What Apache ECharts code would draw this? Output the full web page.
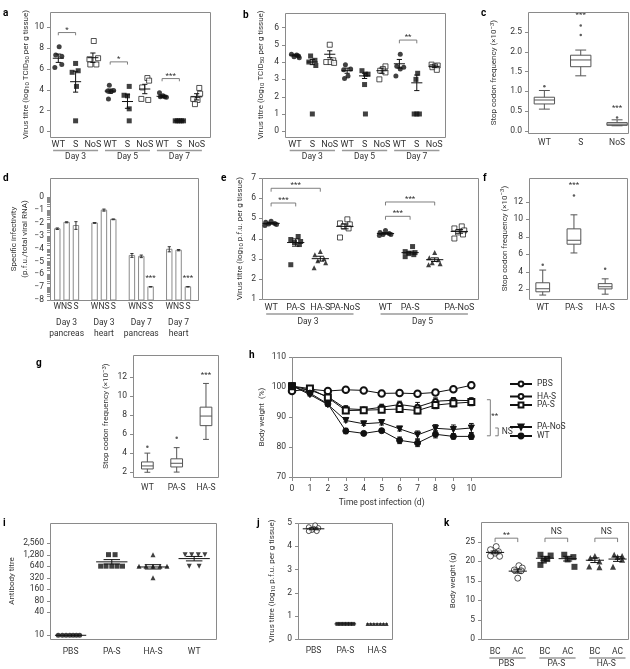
<!DOCTYPE html>
<html><head><meta charset="utf-8">
<script src="https://cdn.jsdelivr.net/npm/echarts@6/dist/echarts.min.js"></script>
<style>html,body{margin:0;padding:0;background:#fff}#c{width:630px;height:669px}</style>
</head><body><div id="c"></div>
<script>
// ================= DATA =================
// ---- panel a : virus titre (log10 TCID50 per g tissue) ----
const aCats = ['WT','S','NoS','WT','S','NoS','WT','S','NoS'];
const aGroups = ['Day 3','Day 5','Day 7'];
const a_d3_WT  = [8.1, 7.3, 7.2, 6.4, 6.1];
const a_d3_S   = [6.5, 5.8, 5.65, 4.3, 1.0];
const a_d3_NoS = [8.65, 7.0, 6.9, 6.4, 6.4];
const a_d5_WT  = [4.4, 3.9, 3.85, 3.8, 3.1];
const a_d5_S   = [4.3, 3.45, 3.4, 2.15, 1.0];
const a_d5_NoS = [5.1, 4.85, 4.2, 3.1, 3.0];
const a_d7_WT  = [3.7, 3.4, 3.3, 3.3, 3.25];
const a_d7_S   = [1.0, 1.0, 1.0, 1.0, 1.0];
const a_d7_NoS = [4.15, 3.6, 3.1, 3.0, 2.6];
const aMean = [7.0, 4.75, 7.05, 3.85, 2.85, 4.05, 3.35, 1.0, 3.3];
const aSem  = [0.4, 1.0, 0.45, 0.2, 0.65, 0.45, 0.1, 0.0, 0.3];
const aYTicks = [0, 2, 4, 6, 8, 10];

// ---- panel b ----
const bCats = aCats, bGroups = aGroups;
const b_d3_WT  = [4.45, 4.4, 4.35, 4.3, 4.25];
const b_d3_S   = [4.35, 4.1, 4.0, 3.8, 1.0];
const b_d3_NoS = [5.0, 4.1, 4.0, 4.0, 3.95];
const b_d5_WT  = [3.85, 3.6, 3.55, 3.2, 3.05];
const b_d5_S   = [3.5, 3.3, 3.3, 2.7, 1.0];
const b_d5_NoS = [3.75, 3.6, 3.5, 3.4, 3.0];
const b_d7_WT  = [4.45, 3.75, 3.7, 3.6, 3.2];
const b_d7_S   = [3.35, 3.0, 1.0, 1.0, 1.0];
const b_d7_NoS = [3.85, 3.8, 3.75, 3.7, 3.55];
const bMean = [4.4, 4.0, 4.45, 3.5, 3.2, 3.5, 3.9, 2.8, 3.75];
const bSem  = [0.05, 0.15, 0.2, 0.15, 0.15, 0.15, 0.25, 0.45, 0.07];
const bYTicks = [0, 1, 2, 3, 4, 5, 6];

// ---- panel c : stop codon frequency (x10^-3) boxplots [min, Q1, median, Q3, max] ----
const cCats = ['WT','S','NoS'];
const cBox = [[0.55, 0.68, 0.78, 0.85, 1.02], [1.39, 1.62, 1.79, 1.91, 2.04], [0.13, 0.14, 0.17, 0.21, 0.28]];
const cOutliers = [[1.13], [2.42, 2.66], [0.34]];
const cYTicks = [0, 0.5, 1.0, 1.5, 2.0, 2.5];

// ---- panel d : specific infectivity bars ----
const dBarNames = ['W','NS','S'];
const dGroups = ['Day 3\npancreas','Day 3\nheart','Day 7\npancreas','Day 7\nheart'];
const dValues = [-2.45, -1.95, -2.2, -2.0, -1.0, -1.72, -4.53, -4.6, -6.97, -4.05, -4.12, -6.97];
const dErr    = [0.06, 0.04, 0.3, 0.03, 0.08, 0.03, 0.15, 0.1, 0.02, 0.2, 0.05, 0.02];
const dYTicks = [0, -1, -2, -3, -4, -5, -6, -7, -8];

// ---- panel e : virus titre (log10 p.f.u. per g tissue) ----
const eCats = ['WT','PA-S','HA-S','PA-NoS','WT','PA-S','HA-S','PA-NoS'];
const eGroups = ['Day 3','Day 5'];
const e_d3_WT    = [4.85, 4.8, 4.75, 4.72, 4.7, 4.65];
const e_d3_PAS   = [4.1, 3.95, 3.85, 3.8, 3.7, 2.7];
const e_d3_HAS   = [3.35, 3.2, 3.0, 2.9, 2.8, 2.55];
const e_d3_PANoS = [4.95, 4.75, 4.7, 4.6, 4.5, 4.05];
const e_d5_WT    = [4.4, 4.3, 4.25, 4.2, 4.2, 4.15];
const e_d5_PAS   = [3.6, 3.35, 3.3, 3.25, 3.2, 3.1];
const e_d5_HAS   = [3.3, 3.05, 2.95, 2.8, 2.75, 2.7];
const e_d5_PANoS = [4.6, 4.5, 4.4, 4.3, 4.2, 4.0];
const eMean = [4.75, 3.8, 3.0, 4.6, 4.25, 3.3, 2.95, 4.35];
const eSem  = [0.04, 0.18, 0.12, 0.12, 0.04, 0.07, 0.09, 0.09];
const eYTicks = [1, 2, 3, 4, 5, 6, 7];

// ---- panel f ----
const fCats = ['WT','PA-S','HA-S'];
const fBox = [[1.35, 1.72, 2.07, 2.75, 4.2], [6.15, 7.15, 7.6, 8.9, 10.5], [1.45, 2.05, 2.3, 2.65, 3.2]];
const fOutliers = [[4.8], [12.7], [4.35]];
const fYTicks = [2, 4, 6, 8, 10, 12];

// ---- panel g ----
const gCats = ['WT','PA-S','HA-S'];
const gBox = [[1.93, 2.28, 2.6, 3.02, 3.95], [1.95, 2.49, 2.88, 3.35, 4.53], [5.4, 6.85, 7.86, 8.8, 11.3]];
const gOutliers = [[4.63], [5.57], []];
const gYTicks = [2, 4, 6, 8, 10, 12];

// ---- panel h : body weight (%) over time ----
const hDays = [0, 1, 2, 3, 4, 5, 6, 7, 8, 9, 10];
const hNames = ['PBS','HA-S','PA-S','PA-NoS','WT'];
const h_PBS   = [98.7, 99.3, 98.7, 99.1, 98.9, 97.9, 98.0, 97.8, 98.2, 99.3, 100.6];
const h_HAS   = [100.3, 99.0, 96.8, 92.8, 92.5, 93.3, 94.2, 93.4, 95.3, 95.6, 95.5];
const h_PAS   = [100.3, 99.5, 96.5, 92.2, 92.3, 92.5, 92.7, 92.2, 94.0, 94.6, 95.0];
const h_PANoS = [100.4, 97.5, 94.2, 88.9, 87.8, 88.2, 86.1, 84.1, 86.3, 85.9, 86.4];
const h_WT    = [100.4, 98.0, 94.4, 85.4, 84.6, 85.5, 82.3, 81.4, 84.3, 83.6, 83.6];
const hErr_PBS   = [0.3, 0.3, 0.5, 0.3, 0.3, 1.0, 0.6, 0.6, 1.0, 0.8, 1.0];
const hErr_HAS   = [0.3, 0.5, 0.6, 1.0, 0.6, 1.0, 1.1, 1.5, 1.1, 0.9, 0.9];
const hErr_PAS   = [0.3, 0.4, 0.6, 0.7, 0.8, 0.9, 1.0, 1.1, 1.2, 1.2, 1.2];
const hErr_PANoS = [0.3, 0.5, 0.6, 0.5, 0.5, 0.8, 0.7, 1.3, 1.2, 1.5, 1.5];
const hErr_WT    = [0.3, 0.5, 0.6, 0.9, 0.5, 0.5, 1.1, 1.2, 1.2, 0.9, 1.0];
const hYTicks = [70, 80, 90, 100, 110];

// ---- panel i : antibody titre ----
const iCats = ['PBS','PA-S','HA-S','WT'];
const i_PBS = [10, 10, 10, 10, 10, 10, 10];
const i_PAS = [1280, 1280, 640, 640, 640, 640, 640];
const i_HAS = [1280, 640, 640, 640, 640, 640, 320];
const i_WT  = [1280, 1280, 1280, 1280, 640, 640];
const iMean = [10, 830, 610, 1010];
const iLow  = [10, 730, 540, 880];
const iHigh = [10, 950, 700, 1150];
const iYTicks = [10, 40, 80, 160, 320, 640, 1280, 2560];

// ---- panel j ----
const jCats = ['PBS','PA-S','HA-S'];
const j_PBS = [4.9, 4.82, 4.78, 4.75, 4.7, 4.65, 4.65];
const j_PAS = [0.65, 0.65, 0.65, 0.65, 0.65, 0.65];
const j_HAS = [0.65, 0.65, 0.65, 0.65, 0.65, 0.65, 0.65];
const jMean = [4.75, 0.65, 0.65];
const jSem  = [0.04, 0, 0];
const jYTicks = [0, 1, 2, 3, 4, 5];

// ---- panel k : body weight (g) ----
const kCats = ['BC','AC','BC','AC','BC','AC'];
const kGroups = ['PBS','PA-S','HA-S'];
const k_PBS_BC = [23.7, 22.9, 22.4, 22.0, 21.3, 21.2];
const k_PBS_AC = [18.8, 18.2, 17.7, 17.5, 15.6];
const k_PAS_BC = [21.6, 21.4, 20.5, 20.1, 19.0];
const k_PAS_AC = [21.6, 21.0, 20.4, 18.5];
const k_HAS_BC = [21.3, 20.8, 19.9, 18.6, 18.4];
const k_HAS_AC = [21.6, 21.3, 21.0, 20.3, 18.5];
const kMean = [22.2, 17.4, 20.7, 20.6, 20.2, 20.5];
const kSem  = [0.35, 0.5, 0.5, 0.6, 0.6, 0.6];
const kYTicks = [0, 5, 10, 15, 20, 25];

// ================= LAYOUT (category positions & jitter, not data) =================
const aPos = [0,1,2,3,4,5,6,7,8];
const dPos = [0,1,2,4,5,6,8,9,10,12,13,14];
const ePos = [0,1,2,3,4.65,5.65,6.65,7.65];
const kPos = [0,1,2.2,3.2,4.4,5.4];
const jit5 = [[0.05,-0.15,0.2,0.2,-0.2],[0,0.15,-0.2,0.05,0],[0.05,0.3,-0.2,-0.15,0.2],
              [-0.05,0.2,-0.15,0.05,-0.1],[0.1,-0.2,0.0,0.1,0.1],[0.15,0.25,-0.15,-0.2,0.2],
              [-0.15,0.05,-0.1,0.15,0.25],[-0.24,-0.12,0,0.12,0.24],[0.15,0.2,-0.2,0.05,-0.1]];
const jitB = [[-0.2,0.1,0.2,-0.05,0.25],[-0.1,0.15,-0.2,0.2,0],[0,0.2,-0.2,0.05,0.25],
              [-0.1,0.2,-0.2,0.05,-0.15],[-0.15,0.2,0.05,0.0,0.05],[0.2,0.05,-0.1,0.2,-0.15],
              [0.05,-0.15,0.25,0.05,-0.2],[0.05,-0.05,-0.15,0,0.15],[-0.15,0.2,0.05,-0.1,0.15]];
const jit6 = [0.0,-0.22,0.15,-0.1,0.22,-0.25];
const jit6b = [0.1,-0.2,0.2,-0.05,0.15,-0.2];
const jitI = [[-0.3,-0.2,-0.11,-0.02,0.06,0.14,0.22],[-0.08,0.08,-0.27,-0.14,0,0.13,0.26],
              [0,-0.34,-0.17,0,0.17,0.34,0],[-0.22,-0.06,0.1,0.26,-0.12,0.12]];
const jitJ = [[0.05,-0.15,0.15,0.0,-0.05,-0.15,0.1],[-0.25,-0.15,-0.05,0.05,0.15,0.25],
              [-0.3,-0.2,-0.1,0,0.1,0.2,0.3]];
const jitK = [[0.05,-0.2,0.15,0.0,-0.2,0.2],[0.05,0.2,-0.15,0.15,0.0],[-0.2,0.25,0.1,-0.05,-0.2],
              [-0.15,0.25,0.0,0.3],[0.0,-0.2,0.2,-0.25,0.2],[-0.15,0.2,0.0,0.2,-0.2]];

// ================= HELPERS =================
const FONT = 'Roboto, "Noto Sans", sans-serif';
const TXT = '#333', AX = '#8a8a8a', MK = '#111', BR = '#707070', UL = '#9a9a9a';
const TRI_DOWN = 'path://M0,0 L10,0 L5,8.66 Z';
const RICH_SUB = {s:{fontSize:6, fontFamily:FONT, color:TXT, padding:[3,0,0,0]}};
const RICH_SUP = {p:{fontSize:6, fontFamily:FONT, color:TXT, padding:[0,0,4,0]}};
const grids = [], xAxes = [], yAxes = [], series = [], legends = [], panels = [], notes = [];

function panel(rect, xa, ya){
  const gi = grids.length;
  grids.push(Object.assign({show:false, containLabel:false, outerBoundsMode:'none'}, rect));
  const xT = xa._ticks, yT = ya._ticks;
  delete xa._ticks; delete ya._ticks;
  xa.gridIndex = gi; ya.gridIndex = gi;
  xAxes.push(xa); yAxes.push(ya);
  const p = {gi, xi:xAxes.length-1, yi:yAxes.length-1, xT, yT, under:[],
             ext:[xa.min, xa.max, ya.min, ya.max]};
  panels.push(p);
  return p;
}
function yAx(min, max, ticks, labels, fmt, name, gap, opt){
  opt = opt || {};
  const a = {type:opt.type||'value', min, max, position:'left',
    axisLine:{show:false, onZero:false}, splitLine:{show:false}, minorTick:{show:false},
    axisTick:{show:false},
    axisLabel:{show:true, customValues:labels||ticks, formatter:fmt||(v=>''+v), color:TXT, fontSize:8.5, fontFamily:FONT, margin:opt.margin||6, showMinLabel:true, showMaxLabel:true},
    name, nameLocation:'middle', nameRotate:90, nameGap:gap,
    nameTextStyle:{color:TXT, fontSize:8, fontFamily:FONT, lineHeight:opt.lh||10}};
  a._ticks = ticks;
  if (opt.rich) a.nameTextStyle.rich = opt.rich;
  if (opt.logBase) a.logBase = opt.logBase;
  return a;
}
function xAx(min, max, ticks, fmt, opt){
  opt = opt || {};
  const a = {type:'value', min, max, position:'bottom',
    axisLine:{show:false, onZero:false}, splitLine:{show:false}, minorTick:{show:false},
    axisTick:{show:false},
    axisLabel:{show:true, customValues:ticks, formatter:fmt, color:TXT, fontSize:opt.fs||9, fontFamily:FONT, margin:opt.margin==null?4:opt.margin, showMinLabel:true, showMaxLabel:true}};
  a._ticks = opt.tick ? ticks : [];
  return a;
}
const catFmt = (pos, names) => v => { const i = pos.findIndex(p => Math.abs(p - v) < 1e-6); return i < 0 ? '' : names[i]; };

function dots(p, x, vals, jit, kind, size){
  const open = kind[0] === 'o';
  const sym = {circle:'circle', ocircle:'circle', square:'rect', osquare:'rect', tri:'triangle', tridown:TRI_DOWN}[kind];
  series.push({type:'scatter', xAxisIndex:p.xi, yAxisIndex:p.yi, symbol:sym, symbolSize:size||5,
    itemStyle: open ? {color:'#fff', borderColor:MK, borderWidth:0.9} : {color:MK},
    data: vals.map((v, i) => [x + jit[i % jit.length], v]), z:4, silent:true, animation:false});
}
function seg(a, b, c, w){ return {type:'line', shape:{x1:a[0], y1:a[1], x2:b[0], y2:b[1]}, style:{stroke:c||MK, lineWidth:w||1}}; }
function meanSem(p, xs, mean, lo, hi, halfW, capW, color){
  series.push({type:'custom', xAxisIndex:p.xi, yAxisIndex:p.yi, z:5, silent:true, animation:false,
    itemStyle:{color:MK},
    data: xs.map((x, i) => [x, mean[i], lo[i], hi[i]]),
    renderItem: (params, api) => {
      const x = api.value(0), m = api.value(1), l = api.value(2), h = api.value(3);
      const ch = [seg(api.coord([x-halfW, m]), api.coord([x+halfW, m]), color)];
      if (h > l) {
        ch.push(seg(api.coord([x, l]), api.coord([x, h]), color));
        ch.push(seg(api.coord([x-capW, l]), api.coord([x+capW, l]), color));
        ch.push(seg(api.coord([x-capW, h]), api.coord([x+capW, h]), color));
      }
      return {type:'group', children:ch};
    }});
}
function boxes(p, xs, stats, outl, halfW, capW){
  series.push({type:'custom', xAxisIndex:p.xi, yAxisIndex:p.yi, z:4, silent:true, animation:false,
    itemStyle:{color:'#555'},
    data: xs.map((x, i) => [x].concat(stats[i])),
    renderItem: (params, api) => {
      const x = api.value(0), mn = api.value(1), q1 = api.value(2), md = api.value(3), q3 = api.value(4), mx = api.value(5);
      const tl = api.coord([x-halfW, q3]), br = api.coord([x+halfW, q1]);
      const C = '#555';
      return {type:'group', children:[
        {type:'rect', shape:{x:tl[0], y:tl[1], width:br[0]-tl[0], height:br[1]-tl[1]}, style:{fill:'#fff', stroke:C, lineWidth:1}},
        seg(api.coord([x-halfW, md]), api.coord([x+halfW, md]), C),
        seg(api.coord([x, q3]), api.coord([x, mx]), C),
        seg(api.coord([x, q1]), api.coord([x, mn]), C),
        seg(api.coord([x-capW, mx]), api.coord([x+capW, mx]), C),
        seg(api.coord([x-capW, mn]), api.coord([x+capW, mn]), C)
      ]};
    }});
  const od = [];
  outl.forEach((arr, i) => arr.forEach(v => od.push([xs[i], v])));
  series.push({type:'scatter', xAxisIndex:p.xi, yAxisIndex:p.yi, symbolSize:2.5, itemStyle:{color:'#333'}, data:od, silent:true, animation:false, z:5});
}
function textAt(p, x, y, text, fs, offY){ notes.push({p, x, y, text, fs:fs||8, dy:offY==null?-3:offY}); }
function bracketPts(p, pts){
  series.push({type:'line', xAxisIndex:p.xi, yAxisIndex:p.yi, data:pts, symbol:'none', itemStyle:{color:BR}, lineStyle:{color:BR, width:0.9}, silent:true, animation:false, z:3});
}
function bracket(p, x1, x2, y, drop, text, fs, offY){
  bracketPts(p, [[x1, y-drop], [x1, y], [x2, y], [x2, y-drop]]);
  textAt(p, (x1+x2)/2, y, text, fs, offY);
}
const lohi = (m, s, sgn) => m.map((v, i) => v + sgn * s[i]);

// ================= PANELS =================
// a
const A = panel({left:50, top:12, width:160, height:125},
  xAx(-0.48, 8.77, aPos, catFmt(aPos, aCats), {fs:9, margin:3}),
  yAx(-0.55, 11.43, aYTicks, null, null, 'Virus titre (log{s|10} TCID{s|50} per g tissue)', 18, {rich:RICH_SUB}));
const aKinds = ['circle','square','osquare'];
[a_d3_WT, a_d3_S, a_d3_NoS, a_d5_WT, a_d5_S, a_d5_NoS, a_d7_WT, a_d7_S, a_d7_NoS]
  .forEach((vals, k) => dots(A, aPos[k], vals, jit5[k], aKinds[k % 3], 5));
meanSem(A, aPos, aMean, lohi(aMean, aSem, -1), lohi(aMean, aSem, 1), 0.32, 0.15);
bracket(A, 0, 1, 9.46, 0.26, '*');
bracket(A, 3, 4, 6.65, 0.26, '*');
bracket(A, 6, 7, 5.05, 0.26, '***');
aGroups.forEach((g, k) => A.under.push([aPos[3*k] - 0.3, aPos[3*k+2] + 0.3, 150.5]));

// b
const B = panel({left:285, top:12.7, width:160, height:124.3},
  xAx(-0.57, 8.62, aPos, catFmt(aPos, bCats), {fs:9, margin:3}),
  yAx(-0.33, 6.85, bYTicks, null, null, 'Virus titre (log{s|10} TCID{s|50} per g tissue)', 19, {rich:RICH_SUB}));
[b_d3_WT, b_d3_S, b_d3_NoS, b_d5_WT, b_d5_S, b_d5_NoS, b_d7_WT, b_d7_S, b_d7_NoS]
  .forEach((vals, k) => dots(B, aPos[k], vals, jitB[k], aKinds[k % 3], 5));
meanSem(B, aPos, bMean, lohi(bMean, bSem, -1), lohi(bMean, bSem, 1), 0.32, 0.15);
bracket(B, 6, 7, 5.27, 0.19, '**');
bGroups.forEach((g, k) => B.under.push([aPos[3*k] - 0.3, aPos[3*k+2] + 0.3, 150.5]));

// c
const C = panel({left:528, top:12, width:100, height:121.3},
  xAx(-0.45, 2.3, [0,1,2], catFmt([0,1,2], cCats), {fs:8.5, margin:5}),
  yAx(-0.06, 3.0, cYTicks, null, v => v.toFixed(1), 'Stop codon frequency (×10{p|−3})', 29, {rich:RICH_SUP}));
boxes(C, [0,1,2], cBox, cOutliers, 0.28, 0.15);
textAt(C, 1, 2.92, '***', 8, 0);
textAt(C, 2, 0.57, '***', 8, 0);

// d
const dMinor = [];
for (let n = 0; n >= -7; n--) for (let k = 2; k <= 9; k++) dMinor.push(n + Math.log10(k / 10));
const D = panel({left:50, top:178, width:148, height:122},
  xAx(-0.78, 15.08, dPos, v => { const i = dPos.findIndex(p => Math.abs(p - v) < 1e-6); return i < 0 ? '' : dBarNames[i % 3]; }, {fs:8.5, margin:2}),
  yAx(-8, 1.5, dYTicks.concat(dMinor), dYTicks, v => v < 0 ? '−' + (-v) : '' + v, 'Specific infectivity\n(p.f.u./total viral RNA)', 18, {lh:11}));
series.push({type:'custom', xAxisIndex:D.xi, yAxisIndex:D.yi, z:4, silent:true, animation:false, itemStyle:{color:'#888'},
  data: dPos.map((x, i) => [x, dValues[i], dErr[i]]),
  renderItem: (params, api) => {
    const x = api.value(0), v = api.value(1), e = api.value(2);
    const tl = api.coord([x-0.29, v]), br = api.coord([x+0.29, -8]);
    const ch = [{type:'rect', shape:{x:tl[0], y:tl[1], width:br[0]-tl[0], height:br[1]-tl[1]}, style:{fill:'#fff', stroke:'#8a8a8a', lineWidth:1}}];
    ch.push(seg(api.coord([x, v-e]), api.coord([x, v+e]), '#333'));
    ch.push(seg(api.coord([x-0.17, v-e]), api.coord([x+0.17, v-e]), '#333'));
    ch.push(seg(api.coord([x-0.17, v+e]), api.coord([x+0.17, v+e]), '#333'));
    return {type:'group', children:ch};
  }});
textAt(D, 10, -6.3, '***', 8, 0);
textAt(D, 14, -6.3, '***', 8, 0);

// e
const E = panel({left:262, top:178, width:216, height:121},
  xAx(-0.37, 8.41, ePos, catFmt(ePos, eCats), {fs:9, margin:4}),
  yAx(1, 7, eYTicks, null, null, 'Virus titre (log{s|10} p.f.u. per g tissue)', 17, {rich:RICH_SUB}));
const eKinds = ['circle','square','tri','osquare'];
[e_d3_WT, e_d3_PAS, e_d3_HAS, e_d3_PANoS, e_d5_WT, e_d5_PAS, e_d5_HAS, e_d5_PANoS]
  .forEach((vals, k) => dots(E, ePos[k], vals, k % 2 ? jit6b : jit6, eKinds[k % 4], 5));
meanSem(E, ePos, eMean, lohi(eMean, eSem, -1), lohi(eMean, eSem, 1), 0.35, 0.15);
bracket(E, ePos[0], ePos[1], 5.76, 0.17, '***');
bracket(E, ePos[0], ePos[2], 6.49, 0.17, '***');
bracket(E, ePos[4], ePos[5], 5.1, 0.17, '***');
bracket(E, ePos[4], ePos[6], 5.81, 0.17, '***');
eGroups.forEach((g, k) => E.under.push([ePos[4*k] - 0.2, ePos[4*k+3] + 0.35, 314]));

// f
const F = panel({left:529, top:178, width:98, height:121},
  xAx(-0.44, 2.7, [0,1,2], catFmt([0,1,2], fCats), {fs:8.5, margin:4}),
  yAx(0.9, 14.7, fYTicks, null, null, 'Stop codon frequency (×10{p|−3})', 14, {rich:RICH_SUP}));
boxes(F, [0,1,2], fBox, fOutliers, 0.22, 0.11);
textAt(F, 1, 13.9, '***', 8, 0);

// g
const Gp = panel({left:133, top:355, width:85, height:122.3},
  xAx(-0.49, 2.41, [0,1,2], catFmt([0,1,2], gCats), {fs:8.5, margin:6}),
  yAx(1.4, 14.3, gYTicks, null, null, 'Stop codon frequency (×10{p|−3})', 22, {rich:RICH_SUP}));
boxes(Gp, [0,1,2], gBox, gOutliers, 0.2, 0.1);
textAt(Gp, 2, 12.2, '***', 8, 0);

// h
const H = panel({left:292, top:357, width:269, height:120.3},
  xAx(0, 15, hDays, v => '' + v, {tick:true, fs:8.5, margin:7}),
  yAx(70, 110, hYTicks, null, null, 'Body weight  (%)', 25));
const hSets = [h_PBS, h_HAS, h_PAS, h_PANoS, h_WT];
const hErrs = [hErr_PBS, hErr_HAS, hErr_PAS, hErr_PANoS, hErr_WT];
const hSym = [['emptyCircle', 6.5], ['emptyCircle', 4.5], ['emptyRect', 6], [TRI_DOWN, 6], ['circle', 6]];
hSets.forEach((vals, k) => {
  series.push({type:'custom', xAxisIndex:H.xi, yAxisIndex:H.yi, z:3, silent:true, animation:false, itemStyle:{color:MK},
    data: hDays.map((d, i) => [d, vals[i], hErrs[k][i]]),
    renderItem: (params, api) => {
      const x = api.value(0), v = api.value(1), e = api.value(2);
      return {type:'group', children:[
        seg(api.coord([x, v-e]), api.coord([x, v+e]), MK),
        seg(api.coord([x-0.13, v-e]), api.coord([x+0.13, v-e]), MK),
        seg(api.coord([x-0.13, v+e]), api.coord([x+0.13, v+e]), MK)]};
    }});
  series.push({type:'line', name:hNames[k], xAxisIndex:H.xi, yAxisIndex:H.yi, data:hDays.map((d, i) => [d, vals[i]]),
    symbol:hSym[k][0], symbolSize:hSym[k][1], showSymbol:true, lineStyle:{color:MK, width:1},
    itemStyle:{color:MK, borderColor:MK, borderWidth:1}, silent:true, animation:false, z:4 + k});
});
const hLegendY = [384, 396.5, 405, 427, 436];
hNames.forEach((n, k) => legends.push({data:[n], left:509, top:hLegendY[k] - 4.5, orient:'vertical', padding:0, itemGap:0,
  itemWidth:22, itemHeight:6, selectedMode:false, textStyle:{color:TXT, fontSize:8.5, fontFamily:FONT, lineHeight:8}}));
bracketPts(H, [[10.87, 95.8], [11.06, 95.8], [11.06, 83.8], [10.87, 83.8]]);
bracketPts(H, [[11.33, 86.4], [11.5, 86.4], [11.5, 83.8], [11.33, 83.8]]);
textAt(H, 11.3, 90.3, '**', 8, 0);
textAt(H, 12.0, 85.1, 'NS', 8.5, 0);

// i
const iPos = [0,1,2,3];
const I = panel({left:50, top:523, width:166, height:116},
  xAx(-0.5, 3.53, iPos, catFmt(iPos, iCats), {fs:8.5, margin:8}),
  yAx(8, 8600, iYTicks, null, v => Math.round(v).toLocaleString('en-US'), 'Antibody titre', 33, {type:'log', logBase:2}));
const iKinds = ['circle','square','tri','tridown'];
[i_PBS, i_PAS, i_HAS, i_WT].forEach((vals, k) => dots(I, iPos[k], vals, jitI[k], iKinds[k], 5));
meanSem(I, iPos, iMean, iLow, iHigh, 0.38, 0.2);

// j
const jPos = [0,1,2];
const J = panel({left:298, top:523, width:94, height:116},
  xAx(-0.49, 2.47, jPos, catFmt(jPos, jCats), {fs:8.5, margin:7}),
  yAx(0, 5, jYTicks, null, null, 'Virus titre (log{s|10} p.f.u. per g tissue)', 21, {rich:RICH_SUB}));
[j_PBS, j_PAS, j_HAS].forEach((vals, k) => dots(J, jPos[k], vals, jitJ[k], ['ocircle','square','tri'][k], k ? 4 : 5));
meanSem(J, jPos, jMean, lohi(jMean, jSem, -1), lohi(jMean, jSem, 1), 0.34, 0.15);

// k
const K = panel({left:481, top:522, width:147, height:117},
  xAx(-0.62, 5.86, kPos, catFmt(kPos, kCats), {fs:8.5, margin:8}),
  yAx(0, 30, kYTicks, null, null, 'Body weight (g)', 23));
const kKinds = ['ocircle','ocircle','square','square','tri','tri'];
[k_PBS_BC, k_PBS_AC, k_PAS_BC, k_PAS_AC, k_HAS_BC, k_HAS_AC].forEach((vals, k) => dots(K, kPos[k], vals, jitK[k], kKinds[k], 6));
meanSem(K, kPos, kMean, lohi(kMean, kSem, -1), lohi(kMean, kSem, 1), 0.4, 0.2);
bracket(K, kPos[0], kPos[1], 25.85, 1.0, '**', 8, -3);
bracket(K, kPos[2], kPos[3], 25.85, 1.0, 'NS', 8.5, -6);
bracket(K, kPos[4], kPos[5], 25.85, 1.0, 'NS', 8.5, -6);
kGroups.forEach((g, k) => K.under.push([kPos[2*k] - 0.25, kPos[2*k+1] + 0.35, 658]));

// ---- frames, ticks and group underlines, drawn through each panel's own scales ----
panels.forEach(p => {
  const [xmin, xmax, ymin, ymax] = p.ext;
  series.push({type:'custom', xAxisIndex:p.xi, yAxisIndex:p.yi, z:2, silent:true, animation:false, clip:false,
    itemStyle:{color:AX}, data:[[xmin, ymin]],
    renderItem: (params, api) => {
      const bl = api.coord([xmin, ymin]), tr = api.coord([xmax, ymax]);
      const x0 = Math.round(bl[0]) + 0.5, x1 = Math.round(tr[0]) + 0.5;
      const y0 = Math.round(tr[1]) + 0.5, y1 = Math.round(bl[1]) + 0.5;
      const ch = [seg([x0, y0], [x1, y0], AX), seg([x1, y0], [x1, y1], AX), seg([x0, y1], [x1, y1], AX), seg([x0, y0], [x0, y1], AX)];
      (p.yT || []).forEach(v => { const yy = Math.round(api.coord([xmin, v])[1]) + 0.5; ch.push(seg([x0 - 3.5, yy], [x0, yy], AX)); });
      (p.xT || []).forEach(v => { const xx = Math.round(api.coord([v, ymin])[0]) + 0.5; ch.push(seg([xx, y1], [xx, y1 + 3.5], AX)); });
      p.under.forEach(u => { const a = api.coord([u[0], ymin])[0], b = api.coord([u[1], ymin])[0]; ch.push(seg([a, u[2]], [b, u[2]], UL, 1.6)); });
      return {type:'group', children:ch};
    }});
});

// ================= RENDER =================
const chart = echarts.init(document.getElementById('c'), null, {renderer:'canvas', width:630, height:669, devicePixelRatio:1});
chart.setOption({animation:false, backgroundColor:'#fff', grid:grids, xAxis:xAxes, yAxis:yAxes, series, legend:legends});

function buildGraphic(){
  const G = [];
  const X = (p, v) => chart.convertToPixel({xAxisIndex:p.xi}, v);
  const txt = (x, y, t, o) => ({type:'text', x, y, style:Object.assign({text:t, fill:TXT, fontSize:8.5, fontFamily:FONT, align:'center', verticalAlign:'middle', lineHeight:11}, o || {}), silent:true});
  notes.forEach(n => {
    const pt = chart.convertToPixel({xAxisIndex:n.p.xi, yAxisIndex:n.p.yi}, [n.x, n.y]);
    G.push(txt(pt[0], pt[1] + n.dy, n.text, {fontSize:n.fs}));
  });
  [A, B].forEach(p => aGroups.forEach((g, k) => G.push(txt((X(p, aPos[3*k]) + X(p, aPos[3*k+2])) / 2, 157, g))));
  dGroups.forEach((g, k) => G.push(txt(X(D, dPos[3*k+1]), 328, g)));
  eGroups.forEach((g, k) => G.push(txt((X(E, ePos[4*k]) + X(E, ePos[4*k+3])) / 2, 322, g)));
  kGroups.forEach((g, k) => G.push(txt((X(K, kPos[2*k]) + X(K, kPos[2*k+1])) / 2, 664, g)));
  G.push(txt(X(H, 5), 503, 'Time post infection (d)', {fontSize:8.5}));
  [['a',3,13],['b',243,15],['c',481,13],['d',3,178],['e',221,178],['f',483,178],['g',36,363],['h',249,355],['i',3,523],['j',257,523],['k',444,523]]
    .forEach(([t, x, y]) => G.push(txt(x, y, t, {fill:'#000', fontSize:10, fontWeight:'bold', align:'left'})));
  return G;
}
chart.setOption({graphic:buildGraphic()});
</script></body></html>
